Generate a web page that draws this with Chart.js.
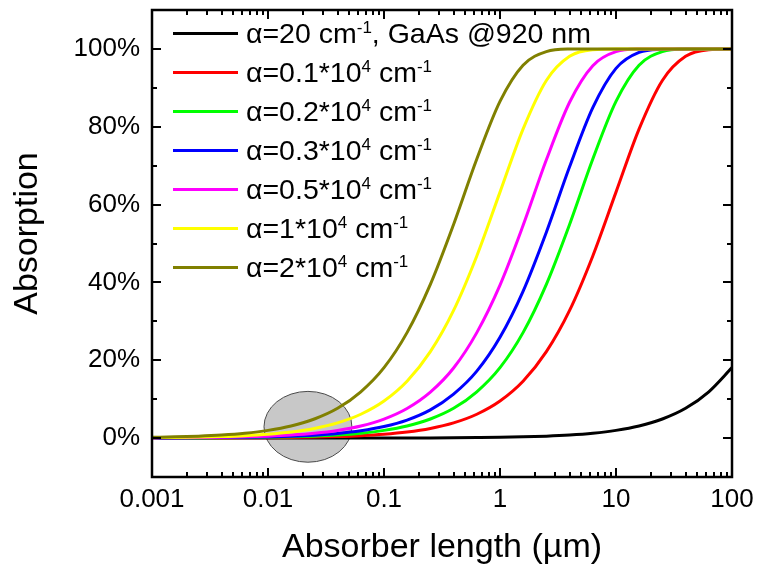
<!DOCTYPE html>
<html><head><meta charset="utf-8">
<script src="https://cdn.jsdelivr.net/npm/chart.js@4"></script>
<style>html,body{margin:0;padding:0;background:#fff;}canvas{display:block;}</style>
</head><body>
<canvas id="c" width="758" height="568"></canvas>
<script>
// Absorber lengths (µm) at which the curves were read
const lengths = [0.001, 0.00158, 0.00251, 0.00398, 0.00631, 0.01, 0.0158, 0.0251, 0.0398, 0.0631,
                 0.1, 0.158, 0.251, 0.398, 0.631, 1, 1.58, 2.51, 3.98, 6.31,
                 10, 15.8, 25.1, 39.8, 63.1, 100];
// Absorption (%)
const absAlpha20    = [0, 0, 0, 0, 0, 0, 0, 0.01, 0.01, 0.01, 0.02, 0.03, 0.05, 0.08, 0.13, 0.20, 0.32, 0.50, 0.79, 1.25, 1.98, 3.11, 4.90, 7.65, 11.9, 18.1];
const absAlpha1000  = [0.01, 0.02, 0.03, 0.04, 0.06, 0.10, 0.16, 0.25, 0.40, 0.63, 1.00, 1.57, 2.48, 3.90, 6.12, 9.52, 14.6, 22.2, 32.8, 46.8, 63.2, 79.4, 91.9, 98.1, 99.8, 100];
const absAlpha2000  = [0.02, 0.03, 0.05, 0.08, 0.13, 0.20, 0.32, 0.50, 0.79, 1.25, 1.98, 3.11, 4.90, 7.65, 11.9, 18.1, 27.1, 39.5, 54.9, 71.7, 86.5, 95.8, 99.3, 99.96, 100, 100];
const absAlpha3000  = [0.03, 0.05, 0.08, 0.12, 0.19, 0.30, 0.47, 0.75, 1.19, 1.88, 2.96, 4.63, 7.25, 11.3, 17.2, 25.9, 37.7, 52.9, 69.7, 84.9, 95.0, 99.1, 99.9, 100, 100, 100];
const absAlpha5000  = [0.05, 0.08, 0.13, 0.20, 0.32, 0.50, 0.79, 1.25, 1.97, 3.11, 4.88, 7.60, 11.8, 18.0, 27.1, 39.3, 54.6, 71.5, 86.3, 95.7, 99.3, 99.96, 100, 100, 100, 100];
const absAlpha10000 = [0.10, 0.16, 0.25, 0.40, 0.63, 1.00, 1.57, 2.48, 3.90, 6.12, 9.52, 14.6, 22.2, 32.8, 46.8, 63.2, 79.4, 91.9, 98.1, 99.8, 100, 100, 100, 100, 100, 100];
const absAlpha20000 = [0.20, 0.32, 0.50, 0.79, 1.25, 1.98, 3.11, 4.90, 7.65, 11.9, 18.1, 27.1, 39.5, 54.9, 71.7, 86.5, 95.8, 99.3, 99.96, 100, 100, 100, 100, 100, 100, 100];

const seriesLabels = [
  "α=20 cm^{-1}, GaAs @920 nm",
  "α=0.1*10^{4} cm^{-1}",
  "α=0.2*10^{4} cm^{-1}",
  "α=0.3*10^{4} cm^{-1}",
  "α=0.5*10^{4} cm^{-1}",
  "α=1*10^{4} cm^{-1}",
  "α=2*10^{4} cm^{-1}"
];
const seriesColors = ['#000000', '#ff0000', '#00ff00', '#0000ff', '#ff00ff', '#ffff00', '#808000'];
const xTickValues = [0.001, 0.01, 0.1, 1, 10, 100];
const yTickValues = [0, 20, 40, 60, 80, 100];
const yMinorValues = [10, 30, 50, 70, 90];
const xTitle = 'Absorber length (µm)';
const yTitle = 'Absorption';
// highlighted region (data units): centre, half-width in decades, half-height in %
const highlight = { x: 0.0221, y: 2.9, rxDecades: 0.379, ry: 9.1 };

const FONT = '"Liberation Sans", Arial, sans-serif';
const seriesValues = [absAlpha20, absAlpha1000, absAlpha2000, absAlpha3000, absAlpha5000, absAlpha10000, absAlpha20000];

const datasets = seriesValues.map((vals, i) => ({
  label: seriesLabels[i].replace(/\^\{([^}]*)\}/g, '$1'),
  data: lengths.map((x, j) => ({ x: x, y: vals[j] })),
  borderColor: seriesColors[i],
  backgroundColor: seriesColors[i],
  borderWidth: 3,
  pointRadius: 0,
  fill: false,
  cubicInterpolationMode: 'monotone',
  order: seriesValues.length - 1 - i
}));

const decor = {
  id: 'decor',
  beforeDatasetsDraw(chart) {
    const ctx = chart.ctx, xs = chart.scales.x, ys = chart.scales.y;
    const cx = xs.getPixelForValue(highlight.x);
    const rx = xs.getPixelForValue(highlight.x * Math.pow(10, highlight.rxDecades)) - cx;
    const cy = ys.getPixelForValue(highlight.y);
    const ry = cy - ys.getPixelForValue(highlight.y + highlight.ry);
    ctx.save();
    ctx.beginPath();
    ctx.ellipse(cx, cy, rx, ry, 0, 0, Math.PI * 2);
    ctx.fillStyle = '#c8c8c8';
    ctx.fill();
    ctx.lineWidth = 1;
    ctx.strokeStyle = '#4a4a4a';
    ctx.stroke();
    ctx.restore();
  },
  afterDatasetsDraw(chart) {
    const ctx = chart.ctx, a = chart.chartArea, xs = chart.scales.x, ys = chart.scales.y;
    ctx.save();
    // ticks (inward, all four sides)
    ctx.strokeStyle = '#000';
    ctx.lineWidth = 2;
    ctx.beginPath();
    const vt = (v, len) => {
      const p = Math.round(xs.getPixelForValue(v));
      ctx.moveTo(p, a.bottom); ctx.lineTo(p, a.bottom - len);
      ctx.moveTo(p, a.top); ctx.lineTo(p, a.top + len);
    };
    const ht = (v, len) => {
      const p = Math.round(ys.getPixelForValue(v));
      ctx.moveTo(a.left, p); ctx.lineTo(a.left + len, p);
      ctx.moveTo(a.right, p); ctx.lineTo(a.right - len, p);
    };
    xTickValues.forEach(v => vt(v, 9));
    xTickValues.slice(0, -1).forEach(d => { for (let m = 2; m <= 9; m++) vt(d * m, 5); });
    yTickValues.forEach(v => ht(v, 9));
    yMinorValues.forEach(v => ht(v, 5));
    ctx.stroke();
    // frame
    ctx.lineWidth = 2.5;
    ctx.strokeRect(a.left, a.top, a.right - a.left, a.bottom - a.top);

    // legend
    const rowY0 = a.top + 23.5, rowStep = 39;
    seriesLabels.forEach((lab, i) => {
      const y = rowY0 + i * rowStep;
      ctx.strokeStyle = seriesColors[i];
      ctx.lineWidth = 3;
      ctx.beginPath();
      ctx.moveTo(a.left + 21, y); ctx.lineTo(a.left + 86, y);
      ctx.stroke();
      let x = a.left + 94;
      const base = y + 9.5;
      ctx.fillStyle = '#000';
      ctx.textBaseline = 'alphabetic';
      ctx.textAlign = 'left';
      const parts = lab.split(/\^\{([^}]*)\}/);
      parts.forEach((p, k) => {
        if (!p) return;
        if (k % 2 === 1) {
          ctx.font = '17px ' + FONT;
          ctx.fillText(p, x, base - 10.5);
        } else {
          ctx.font = '28.5px ' + FONT;
          ctx.fillText(p, x, base);
        }
        x += ctx.measureText(p).width;
      });
    });

    // y axis title
    ctx.fillStyle = '#000';
    ctx.font = '34px ' + FONT;
    ctx.textAlign = 'center';
    ctx.textBaseline = 'middle';
    ctx.translate(27.5, a.top + 223.5);
    ctx.rotate(-Math.PI / 2);
    ctx.fillText(yTitle, 0, 0);
    ctx.restore();
  }
};

new Chart(document.getElementById('c'), {
  type: 'line',
  data: { datasets: datasets },
  options: {
    responsive: false,
    animation: false,
    devicePixelRatio: 1,
    layout: { padding: { top: 10, right: 26, left: 0, bottom: 0 } },
    plugins: { legend: { display: false }, tooltip: { enabled: false } },
    scales: {
      x: {
        type: 'logarithmic', min: 0.001, max: 100, position: 'bottom',
        afterBuildTicks: s => { s.ticks = xTickValues.map(v => ({ value: v })); },
        afterFit: s => { s.height = 91; s.paddingLeft = 0; s.paddingRight = 0; s.paddingTop = 0; s.paddingBottom = 0; },
        grid: { display: false, drawTicks: false },
        border: { display: false },
        ticks: { padding: 7, color: '#000', font: { family: FONT, size: 26 }, maxRotation: 0, autoSkip: false,
                 callback: v => String(v) },
        title: { display: true, text: xTitle, color: '#000', font: { family: FONT, size: 34 }, padding: { top: 0, bottom: 0 } }
      },
      y: {
        type: 'linear', min: -10, max: 110,
        afterBuildTicks: s => { s.ticks = yTickValues.map(v => ({ value: v })); },
        afterFit: s => { s.width = 152; s.paddingLeft = 0; s.paddingRight = 0; s.paddingTop = 0; s.paddingBottom = 0; },
        grid: { display: false, drawTicks: false },
        border: { display: false },
        ticks: { padding: 12, color: '#000', font: { family: FONT, size: 26 }, callback: v => v + '%' }
      }
    }
  },
  plugins: [decor]
});
</script>
</body></html>
